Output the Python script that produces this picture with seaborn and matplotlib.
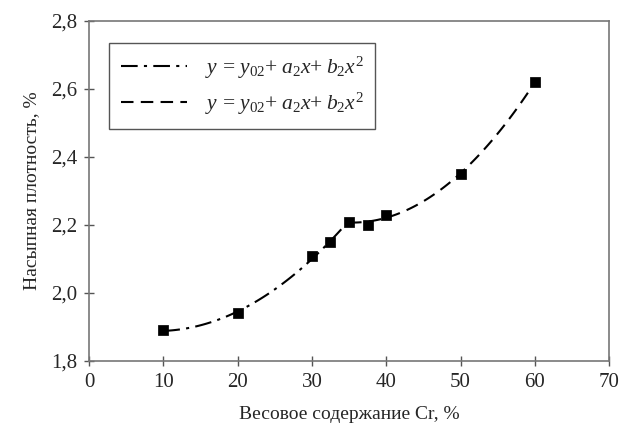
import numpy as np
import pandas as pd
import matplotlib
matplotlib.use("Agg")
import matplotlib.pyplot as plt
import seaborn as sns
from matplotlib.ticker import FuncFormatter

# measured points
cr = [10, 20, 30, 32.5, 35, 37.5, 40, 50, 60]
density = [1.89, 1.94, 2.11, 2.15, 2.21, 2.20, 2.23, 2.35, 2.62]
legend_label = r"$y\,{=}\,y_{\mathit{02}}{+}\;a_{\mathit{2}}x{+}\;b_{\mathit{2}}x^{\mathit{2}}$"

sns.set_style("ticks")
plt.rcParams['font.family'] = ['Liberation Serif', 'DejaVu Serif']
plt.rcParams['mathtext.fontset'] = 'custom'
plt.rcParams['mathtext.rm'] = 'Liberation Serif'
plt.rcParams['mathtext.it'] = 'Liberation Serif:italic'

df = pd.DataFrame({'cr': cr, 'density': density})
low = df[df['cr'] <= 35]
high = df[df['cr'] >= 35]

# quadratic fits for the two ranges
fit_low = np.polyfit(low['cr'], low['density'], 2)
fit_high = np.polyfit(high['cr'], high['density'], 2)
x_low = np.linspace(low['cr'].min(), low['cr'].max(), 100)
x_high = np.linspace(high['cr'].min(), high['cr'].max(), 100)

fig = plt.figure(figsize=(6.19, 4.37), dpi=100)
ax = fig.add_axes([0.1438, 0.174, 0.8402, 0.778])

sns.lineplot(x=x_low, y=np.polyval(fit_low, x_low), ax=ax, color='black',
             linewidth=1.5, linestyle=(0, (8, 3, 1.5, 3)), label=legend_label)
sns.lineplot(x=x_high, y=np.polyval(fit_high, x_high), ax=ax, color='black',
             linewidth=1.5, linestyle=(0, (6, 3.5)), label=legend_label)
sns.scatterplot(data=df, x='cr', y='density', ax=ax, marker='s', s=42,
                color='black', edgecolor='black', zorder=5)

ax.set_xlim(0, 70)
ax.set_ylim(1.8, 2.8)
ax.set_xticks(range(0, 71, 10))
ax.set_yticks(np.arange(1.8, 2.81, 0.2))
ax.yaxis.set_major_formatter(FuncFormatter(lambda v, p: f"{v:.1f}".replace('.', ',')))
ax.tick_params(direction='inout', length=7, width=1, color='#555555',
               labelsize=15, pad=5)
for s in ax.spines.values():
    s.set_color('#777777')
    s.set_linewidth(1.2)

ax.set_xlabel('Весовое содержание Cr, %', fontsize=14, labelpad=10)
ax.set_ylabel('Насыпная плотность, %', fontsize=14, labelpad=8)

leg = ax.legend(loc='upper left', bbox_to_anchor=(0.038, 0.935), borderaxespad=0,
                fontsize=15.5, fancybox=False, framealpha=1, edgecolor='#555555',
                handlelength=3.1, handletextpad=0.8, borderpad=0.55, labelspacing=0.45)
leg.get_frame().set_linewidth(1.0)

fig.savefig('out.png', dpi=100)
